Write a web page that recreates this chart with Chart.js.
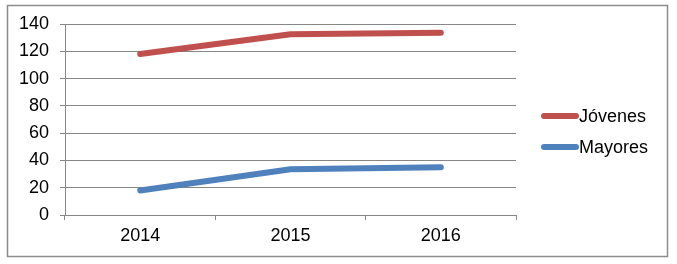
<!DOCTYPE html>
<html>
<head>
<meta charset="utf-8">
<script src="https://cdn.jsdelivr.net/npm/chart.js@4/dist/chart.umd.min.js"></script>
<style>
  html, body { margin: 0; padding: 0; background: #fff; }
  #wrap { width: 677px; height: 264px; position: relative; }
</style>
</head>
<body>
<div id="wrap"><canvas id="grafico" width="677" height="264"></canvas></div>
<script>
const years = ['2014', '2015', '2016'];
const jovenes = [118, 132.5, 133.5];
const mayores = [18, 33.5, 35];
const seriesNames = ['Jóvenes', 'Mayores'];
const seriesColors = ['#C0504D', '#4F81BD'];

const gridColor = '#868686';
const fontSpec = { family: '"Liberation Sans", Arial, sans-serif', size: 18 };

// borde exterior y leyenda a la derecha
const frameAndLegend = {
  id: 'frameAndLegend',
  afterDraw(chart) {
    const c = chart.ctx;
    c.save();
    c.strokeStyle = '#8c8c8c';
    c.lineWidth = 1.5;
    c.strokeRect(7.5, 5.5, 660, 251);

    const items = chart.data.datasets;
    const startY = 116, stepY = 31;
    items.forEach((ds, i) => {
      const y = startY + i * stepY;
      c.strokeStyle = ds.borderColor;
      c.lineWidth = 6;
      c.lineCap = 'round';
      c.beginPath();
      c.moveTo(544, y);
      c.lineTo(576, y);
      c.stroke();
      c.fillStyle = '#000';
      c.font = '18px "Liberation Sans", Arial, sans-serif';
      c.textBaseline = 'middle';
      c.textAlign = 'left';
      c.fillText(ds.label, 579, y + 1);
    });
    c.restore();
  }
};

const ctx = document.getElementById('grafico').getContext('2d');
new Chart(ctx, {
  type: 'line',
  data: {
    labels: years,
    datasets: [
      { label: seriesNames[0], data: jovenes, borderColor: seriesColors[0], backgroundColor: seriesColors[0] },
      { label: seriesNames[1], data: mayores, borderColor: seriesColors[1], backgroundColor: seriesColors[1] }
    ].map(d => Object.assign(d, {
      borderWidth: 6,
      tension: 0,
      pointRadius: 0,
      pointHoverRadius: 0,
      borderCapStyle: 'round',
      borderJoinStyle: 'round',
      fill: false
    }))
  },
  options: {
    responsive: false,
    animation: false,
    layout: { padding: { top: 24, right: 161, left: 0, bottom: 0 } },
    scales: {
      x: {
        offset: true,
        grid: {
          offset: true,
          drawOnChartArea: false,
          drawTicks: true,
          tickLength: 5,
          color: gridColor
        },
        border: { color: gridColor, width: 1 },
        ticks: { color: '#000', font: fontSpec, padding: 5, maxRotation: 0 },
        afterFit(scale) { scale.height = 264 - 215; }
      },
      y: {
        min: 0,
        max: 140,
        ticks: { stepSize: 20, color: '#000', font: fontSpec, padding: 11 },
        grid: { color: gridColor, tickLength: 5, lineWidth: 1 },
        border: { color: gridColor, width: 1 },
        afterFit(scale) { scale.width = 65; }
      }
    },
    plugins: {
      legend: { display: false },
      tooltip: { enabled: false }
    }
  },
  plugins: [frameAndLegend]
});
</script>
</body>
</html>
